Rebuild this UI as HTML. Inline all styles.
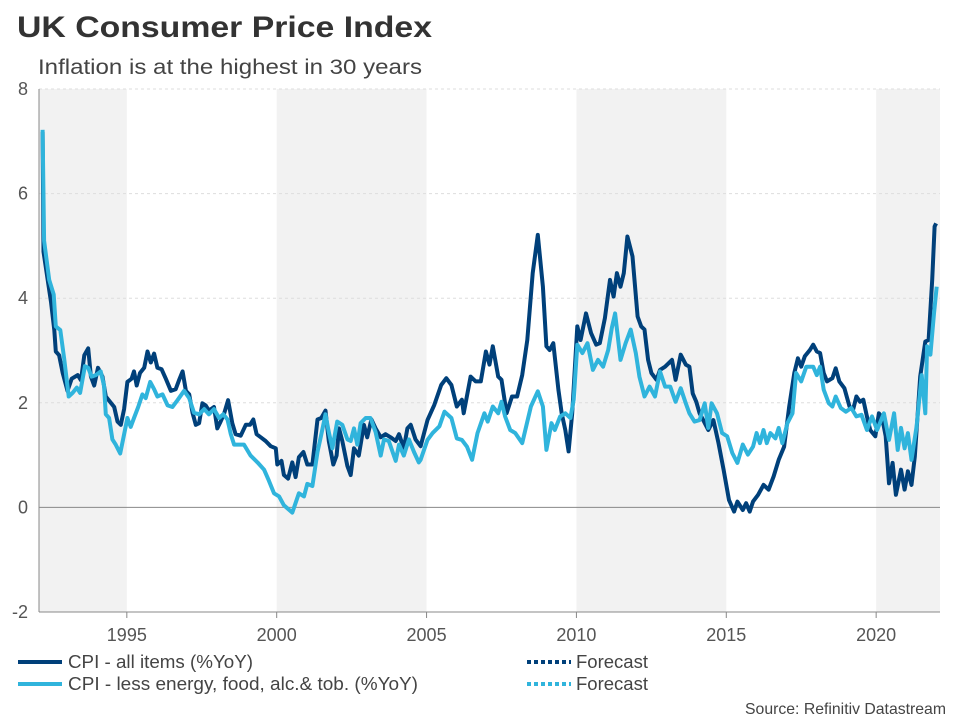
<!DOCTYPE html>
<html><head><meta charset="utf-8"><style>
body{margin:0;background:#fff;font-family:"Liberation Sans",sans-serif;}
svg text{font-family:"Liberation Sans",sans-serif;}
</style></head><body>
<svg id="chart" width="960" height="720" xmlns="http://www.w3.org/2000/svg">
<text x="17" y="37" font-size="30" font-weight="bold" fill="#333" textLength="415" lengthAdjust="spacingAndGlyphs">UK Consumer Price Index</text>
<text x="38" y="74" font-size="21" fill="#444" textLength="384" lengthAdjust="spacingAndGlyphs">Inflation is at the highest in 30 years</text>
<g id="bands"></g>
<g id="grid"></g>
<g id="axes"></g>
<g id="series"></g>
<g>
<line x1="18" y1="662" x2="62" y2="662" stroke="#00407a" stroke-width="4"/>
<text x="68" y="668" font-size="18" fill="#444" textLength="185" lengthAdjust="spacingAndGlyphs">CPI - all items (%YoY)</text>
<line x1="18" y1="684" x2="62" y2="684" stroke="#30b4dc" stroke-width="4"/>
<text x="68" y="690" font-size="18" fill="#444" textLength="350" lengthAdjust="spacingAndGlyphs">CPI - less energy, food, alc.&amp; tob. (%YoY)</text>
<line x1="527" y1="662" x2="571" y2="662" stroke="#00407a" stroke-width="4" stroke-dasharray="4,3"/>
<text x="576" y="668" font-size="18" fill="#444" textLength="72" lengthAdjust="spacingAndGlyphs">Forecast</text>
<line x1="527" y1="684" x2="571" y2="684" stroke="#30b4dc" stroke-width="4" stroke-dasharray="4,3"/>
<text x="576" y="690" font-size="18" fill="#444" textLength="72" lengthAdjust="spacingAndGlyphs">Forecast</text>
</g>
<text x="745" y="714" font-size="16" fill="#444" textLength="201" lengthAdjust="spacingAndGlyphs">Source: Refinitiv Datastream</text>
</svg>
<script>
const yTicks=[-2,0,2,4,6,8];
const xTickYears=[1995,2000,2005,2010,2015,2020];
const bandStarts=[1992.07,2000,2010,2020];
const bandEnds=[1995,2005,2015,2022.13];
const cpiYears=[1992.19,1992.22,1992.36,1992.47,1992.58,1992.63,1992.74,1992.86,1993.02,1993.16,1993.36,1993.47,1993.58,1993.71,1993.80,1993.91,1994.04,1994.19,1994.30,1994.44,1994.58,1994.69,1994.80,1994.91,1995.02,1995.16,1995.24,1995.33,1995.44,1995.58,1995.69,1995.80,1995.91,1996.02,1996.16,1996.30,1996.47,1996.63,1996.74,1996.86,1996.97,1997.08,1997.19,1997.30,1997.41,1997.52,1997.63,1997.74,1997.91,1998.02,1998.13,1998.24,1998.38,1998.52,1998.63,1998.80,1998.97,1999.11,1999.22,1999.33,1999.47,1999.63,1999.80,1999.97,2000.02,2000.16,2000.24,2000.38,2000.52,2000.63,2000.74,2000.89,2001.02,2001.19,2001.36,2001.49,2001.63,2001.74,2001.89,2002.00,2002.08,2002.19,2002.36,2002.47,2002.58,2002.74,2002.91,2003.02,2003.16,2003.30,2003.47,2003.63,2003.80,2003.97,2004.08,2004.24,2004.36,2004.47,2004.63,2004.80,2005.03,2005.26,2005.49,2005.66,2005.83,2006.01,2006.18,2006.24,2006.47,2006.64,2006.81,2006.98,2007.10,2007.21,2007.39,2007.50,2007.67,2007.85,2008.02,2008.19,2008.36,2008.54,2008.71,2008.88,2009.00,2009.11,2009.23,2009.40,2009.51,2009.63,2009.74,2009.86,2010.03,2010.14,2010.32,2010.49,2010.66,2010.78,2010.95,2011.12,2011.24,2011.35,2011.47,2011.58,2011.70,2011.87,2012.04,2012.16,2012.27,2012.39,2012.50,2012.67,2012.79,2012.96,2013.19,2013.31,2013.48,2013.65,2013.77,2013.88,2014.00,2014.11,2014.23,2014.40,2014.57,2014.74,2014.91,2015.09,2015.26,2015.37,2015.55,2015.66,2015.78,2015.89,2016.06,2016.24,2016.41,2016.58,2016.75,2016.93,2017.10,2017.27,2017.39,2017.50,2017.62,2017.79,2017.90,2018.02,2018.13,2018.25,2018.36,2018.54,2018.65,2018.77,2018.94,2019.11,2019.23,2019.34,2019.46,2019.57,2019.69,2019.80,2019.97,2020.09,2020.20,2020.32,2020.43,2020.55,2020.66,2020.83,2020.95,2021.06,2021.18,2021.29,2021.47,2021.64,2021.75,2021.87,2021.95,2022.00];
const cpiValues=[7.18,4.89,4.35,3.93,3.39,2.98,2.91,2.57,2.23,2.46,2.53,2.43,2.91,3.04,2.50,2.33,2.67,2.50,2.12,2.02,1.92,1.64,1.58,1.88,2.40,2.46,2.60,2.33,2.57,2.67,2.98,2.77,2.94,2.67,2.64,2.46,2.23,2.26,2.43,2.60,2.23,2.16,1.81,1.58,1.61,1.99,1.95,1.85,1.92,1.51,1.64,1.78,2.05,1.61,1.40,1.37,1.58,1.58,1.68,1.40,1.34,1.27,1.17,1.13,0.82,0.89,0.62,0.55,0.86,0.58,0.96,1.06,0.82,0.82,1.68,1.71,1.85,1.27,0.82,0.99,1.51,1.27,0.79,0.62,1.13,0.99,1.58,1.34,1.68,1.51,1.34,1.40,1.34,1.27,1.40,1.13,1.51,1.58,1.30,1.17,1.67,1.96,2.34,2.47,2.34,1.93,2.06,1.80,2.50,2.41,2.41,2.98,2.73,3.08,2.50,2.44,1.80,2.12,2.12,2.53,3.20,4.48,5.21,4.22,3.08,3.01,3.14,2.25,1.80,1.48,1.07,1.80,3.46,3.20,3.71,3.33,3.11,3.14,3.62,4.35,4.03,4.48,4.22,4.48,5.18,4.80,3.65,3.46,3.40,2.82,2.57,2.44,2.63,2.69,2.82,2.44,2.92,2.73,2.69,2.18,2.02,1.80,1.67,1.48,1.67,1.23,0.72,0.14,-0.08,0.11,-0.05,0.08,-0.08,0.11,0.24,0.43,0.34,0.59,0.91,1.16,1.93,2.57,2.85,2.69,2.89,3.01,3.11,2.98,2.95,2.57,2.41,2.47,2.66,2.41,2.28,1.93,1.87,2.12,2.02,2.06,1.74,1.48,1.36,1.80,1.71,1.36,0.46,0.85,0.24,0.72,0.34,0.69,0.43,0.97,2.50,3.17,3.20,4.35,5.37,5.43];
const coreYears=[1992.19,1992.24,1992.41,1992.56,1992.63,1992.78,1992.91,1993.06,1993.19,1993.33,1993.44,1993.60,1993.71,1993.82,1993.97,1994.13,1994.24,1994.30,1994.41,1994.52,1994.63,1994.78,1994.89,1995.02,1995.13,1995.24,1995.38,1995.52,1995.63,1995.78,1995.91,1996.02,1996.19,1996.36,1996.52,1996.69,1996.91,1997.08,1997.24,1997.41,1997.58,1997.74,1997.91,1998.08,1998.22,1998.36,1998.47,1998.58,1998.74,1998.91,1999.13,1999.36,1999.58,1999.74,1999.91,2000.08,2000.24,2000.52,2000.74,2000.91,2001.02,2001.19,2001.36,2001.47,2001.63,2001.74,2001.86,2002.02,2002.19,2002.36,2002.47,2002.58,2002.69,2002.80,2002.97,2003.13,2003.30,2003.47,2003.58,2003.74,2003.97,2004.08,2004.24,2004.41,2004.58,2004.74,2004.80,2005.03,2005.20,2005.43,2005.60,2005.83,2006.01,2006.18,2006.35,2006.52,2006.70,2006.93,2007.04,2007.21,2007.39,2007.50,2007.62,2007.79,2007.96,2008.19,2008.48,2008.71,2008.88,2009.00,2009.17,2009.28,2009.46,2009.63,2009.80,2009.91,2010.03,2010.20,2010.37,2010.55,2010.72,2010.89,2011.06,2011.18,2011.29,2011.47,2011.64,2011.81,2011.98,2012.10,2012.27,2012.44,2012.62,2012.79,2012.96,2013.13,2013.31,2013.48,2013.65,2013.77,2013.94,2014.11,2014.28,2014.40,2014.51,2014.69,2014.86,2015.03,2015.20,2015.37,2015.55,2015.72,2015.89,2016.01,2016.12,2016.24,2016.35,2016.47,2016.64,2016.75,2016.87,2017.04,2017.21,2017.33,2017.50,2017.67,2017.90,2018.02,2018.13,2018.25,2018.42,2018.54,2018.65,2018.82,2018.99,2019.17,2019.34,2019.51,2019.69,2019.86,2020.03,2020.26,2020.43,2020.60,2020.72,2020.83,2020.95,2021.06,2021.18,2021.35,2021.52,2021.64,2021.70,2021.81,2021.93,2022.02];
const coreValues=[7.22,5.10,4.35,4.07,3.46,3.39,2.84,2.12,2.19,2.29,2.19,2.70,2.67,2.50,2.53,2.60,2.33,1.78,1.71,1.30,1.20,1.03,1.34,1.71,1.54,1.71,1.92,2.16,2.09,2.40,2.26,2.12,2.16,1.95,1.92,2.05,2.23,2.09,1.81,1.78,1.88,1.78,1.88,1.71,1.78,1.68,1.40,1.20,1.20,1.20,0.99,0.86,0.72,0.51,0.27,0.21,0.04,-0.10,0.27,0.21,0.45,0.41,1.06,1.34,1.78,1.44,1.13,1.64,1.58,1.30,1.27,1.51,1.20,1.61,1.71,1.71,1.44,0.99,1.30,1.27,0.89,1.20,0.99,1.30,1.06,0.86,0.91,1.29,1.42,1.55,1.83,1.71,1.32,1.29,1.16,0.91,1.42,1.80,1.64,1.93,1.80,2.02,1.74,1.48,1.42,1.23,1.93,2.22,1.93,1.10,1.61,1.48,1.74,1.80,1.71,2.06,3.11,2.95,3.14,2.63,2.82,2.69,3.01,3.43,3.71,2.82,3.14,3.40,2.95,2.50,2.12,2.31,2.12,2.60,2.31,2.31,2.02,2.28,1.99,1.80,1.64,1.67,1.99,1.52,1.99,1.80,1.42,1.36,1.04,0.85,1.20,1.01,1.16,1.42,1.23,1.48,1.23,1.42,1.32,1.52,1.23,1.61,1.80,2.57,2.41,2.69,2.69,2.53,2.69,2.25,1.99,1.93,2.12,1.90,1.83,1.90,1.74,1.77,1.48,1.74,1.48,1.80,1.29,1.80,1.10,1.52,1.13,1.42,0.91,1.55,2.53,1.80,3.08,2.92,3.71,4.22];

const L=39,R=940,T=89,B=612,X0=1992.07,X1=2022.13,Y0=-2,Y1=8;
const xs=y=>L+(y-X0)/(X1-X0)*(R-L);
const ys=v=>B-(v-Y0)/(Y1-Y0)*(B-T);
const NS='http://www.w3.org/2000/svg';
function mk(tag,attrs,parent){const e=document.createElementNS(NS,tag);for(const k in attrs)e.setAttribute(k,attrs[k]);parent.appendChild(e);return e;}
const bands=document.getElementById('bands'),grid=document.getElementById('grid'),axes=document.getElementById('axes'),series=document.getElementById('series');
bandStarts.forEach((s,i)=>{const r=mk('rect',{x:xs(s),y:T,width:xs(bandEnds[i])-xs(s),height:B-T,fill:'#f2f2f2'},bands);

});
yTicks.forEach(v=>{
 if(v!==0&&v!==Y0){const g=mk('line',{x1:L,x2:R,y1:ys(v),y2:ys(v),stroke:'#ddd','stroke-dasharray':'3,3','stroke-width':1},grid);
 
 }
 const t=mk('text',{x:28,y:ys(v)+6,'font-size':18,fill:'#555','text-anchor':'end'},axes);t.textContent=v;
 
 
});
const zl=mk('line',{x1:L,x2:R,y1:ys(0),y2:ys(0),stroke:'#888','stroke-width':1},axes);


const ya=mk('line',{x1:L,x2:L,y1:T,y2:B,stroke:'#888','stroke-width':1},axes);


const xa=mk('line',{x1:L,x2:R,y1:B,y2:B,stroke:'#888','stroke-width':1},axes);


xTickYears.forEach(y=>{
 const tk=mk('line',{x1:xs(y),x2:xs(y),y1:B,y2:B+6,stroke:'#888'},axes);
 
 
 const t=mk('text',{x:xs(y),y:B+29,'font-size':18,fill:'#555','text-anchor':'middle'},axes);t.textContent=y;
 
 
});
function pathOf(yrs,vals){return yrs.map((y,i)=>(i?'L':'M')+xs(y).toFixed(1)+','+ys(vals[i]).toFixed(1)).join('');}
const pc=mk('path',{d:pathOf(coreYears,coreValues),fill:'none',stroke:'#30b4dc','stroke-width':4,'stroke-linejoin':'round'},series);


const pa=mk('path',{d:pathOf(cpiYears,cpiValues),fill:'none',stroke:'#00407a','stroke-width':4,'stroke-linejoin':'round'},series);


series.appendChild(pc);
</script>
</body></html>
